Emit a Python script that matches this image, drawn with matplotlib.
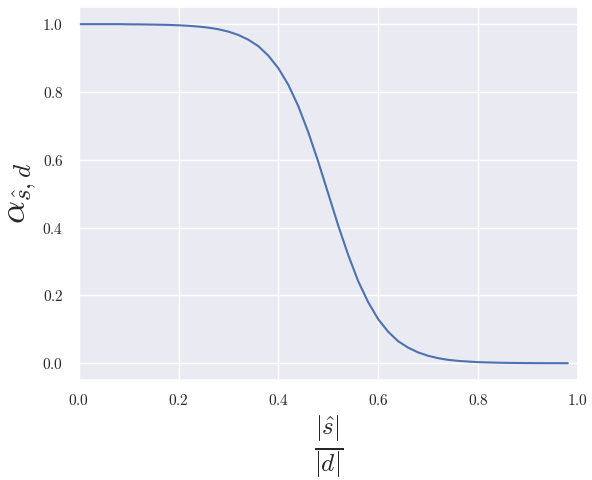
import matplotlib
matplotlib.use('Agg')
import matplotlib.pyplot as plt
import seaborn as sns

# ratio |s_hat|/|d| and the weight alpha
ratio = [0.00, 0.02, 0.04, 0.06, 0.08, 0.10, 0.12, 0.14, 0.16, 0.18,
         0.20, 0.22, 0.24, 0.26, 0.28, 0.30, 0.32, 0.34, 0.36, 0.38,
         0.40, 0.42, 0.44, 0.46, 0.48, 0.50, 0.52, 0.54, 0.56, 0.58,
         0.60, 0.62, 0.64, 0.66, 0.68, 0.70, 0.72, 0.74, 0.76, 0.78,
         0.80, 0.82, 0.84, 0.86, 0.88, 0.90, 0.92, 0.94, 0.96, 0.98]
alpha = [1.000, 1.000, 1.000, 1.000, 1.000, 0.9995, 0.9993, 0.9989, 0.9984, 0.9977,
         0.9967, 0.9951, 0.9929, 0.9897, 0.9849, 0.978, 0.968, 0.954, 0.935, 0.907,
         0.870, 0.821, 0.758, 0.681, 0.594, 0.500, 0.406, 0.319, 0.242, 0.180,
         0.130, 0.093, 0.065, 0.046, 0.032, 0.022, 0.015, 0.010, 0.007, 0.005,
         0.0033, 0.0023, 0.0016, 0.0011, 0.0007, 0.0005, 0.0003, 0.0002, 0.0002, 0.0001]

sns.set_theme()
plt.rcParams['font.family'] = 'serif'
plt.rcParams['font.serif'] = ['cmr10']
plt.rcParams['mathtext.fontset'] = 'cm'
plt.rcParams['axes.formatter.use_mathtext'] = True

fig = plt.figure(figsize=(5.92, 4.8), dpi=100)
ax = fig.add_axes([0.133, 0.208, 0.843, 0.777])

ax.plot(ratio, alpha)
ax.set_xlim(0, 1)
ax.tick_params(axis='y', pad=5)
ax.set_ylabel(r'$\alpha_{\hat{s},d}$', fontsize=26, labelpad=3)
ax.set_xlabel(r'$\frac{|\hat{s}|}{|d|}$', fontsize=26, labelpad=4)

fig.savefig('out.png', dpi=100)
